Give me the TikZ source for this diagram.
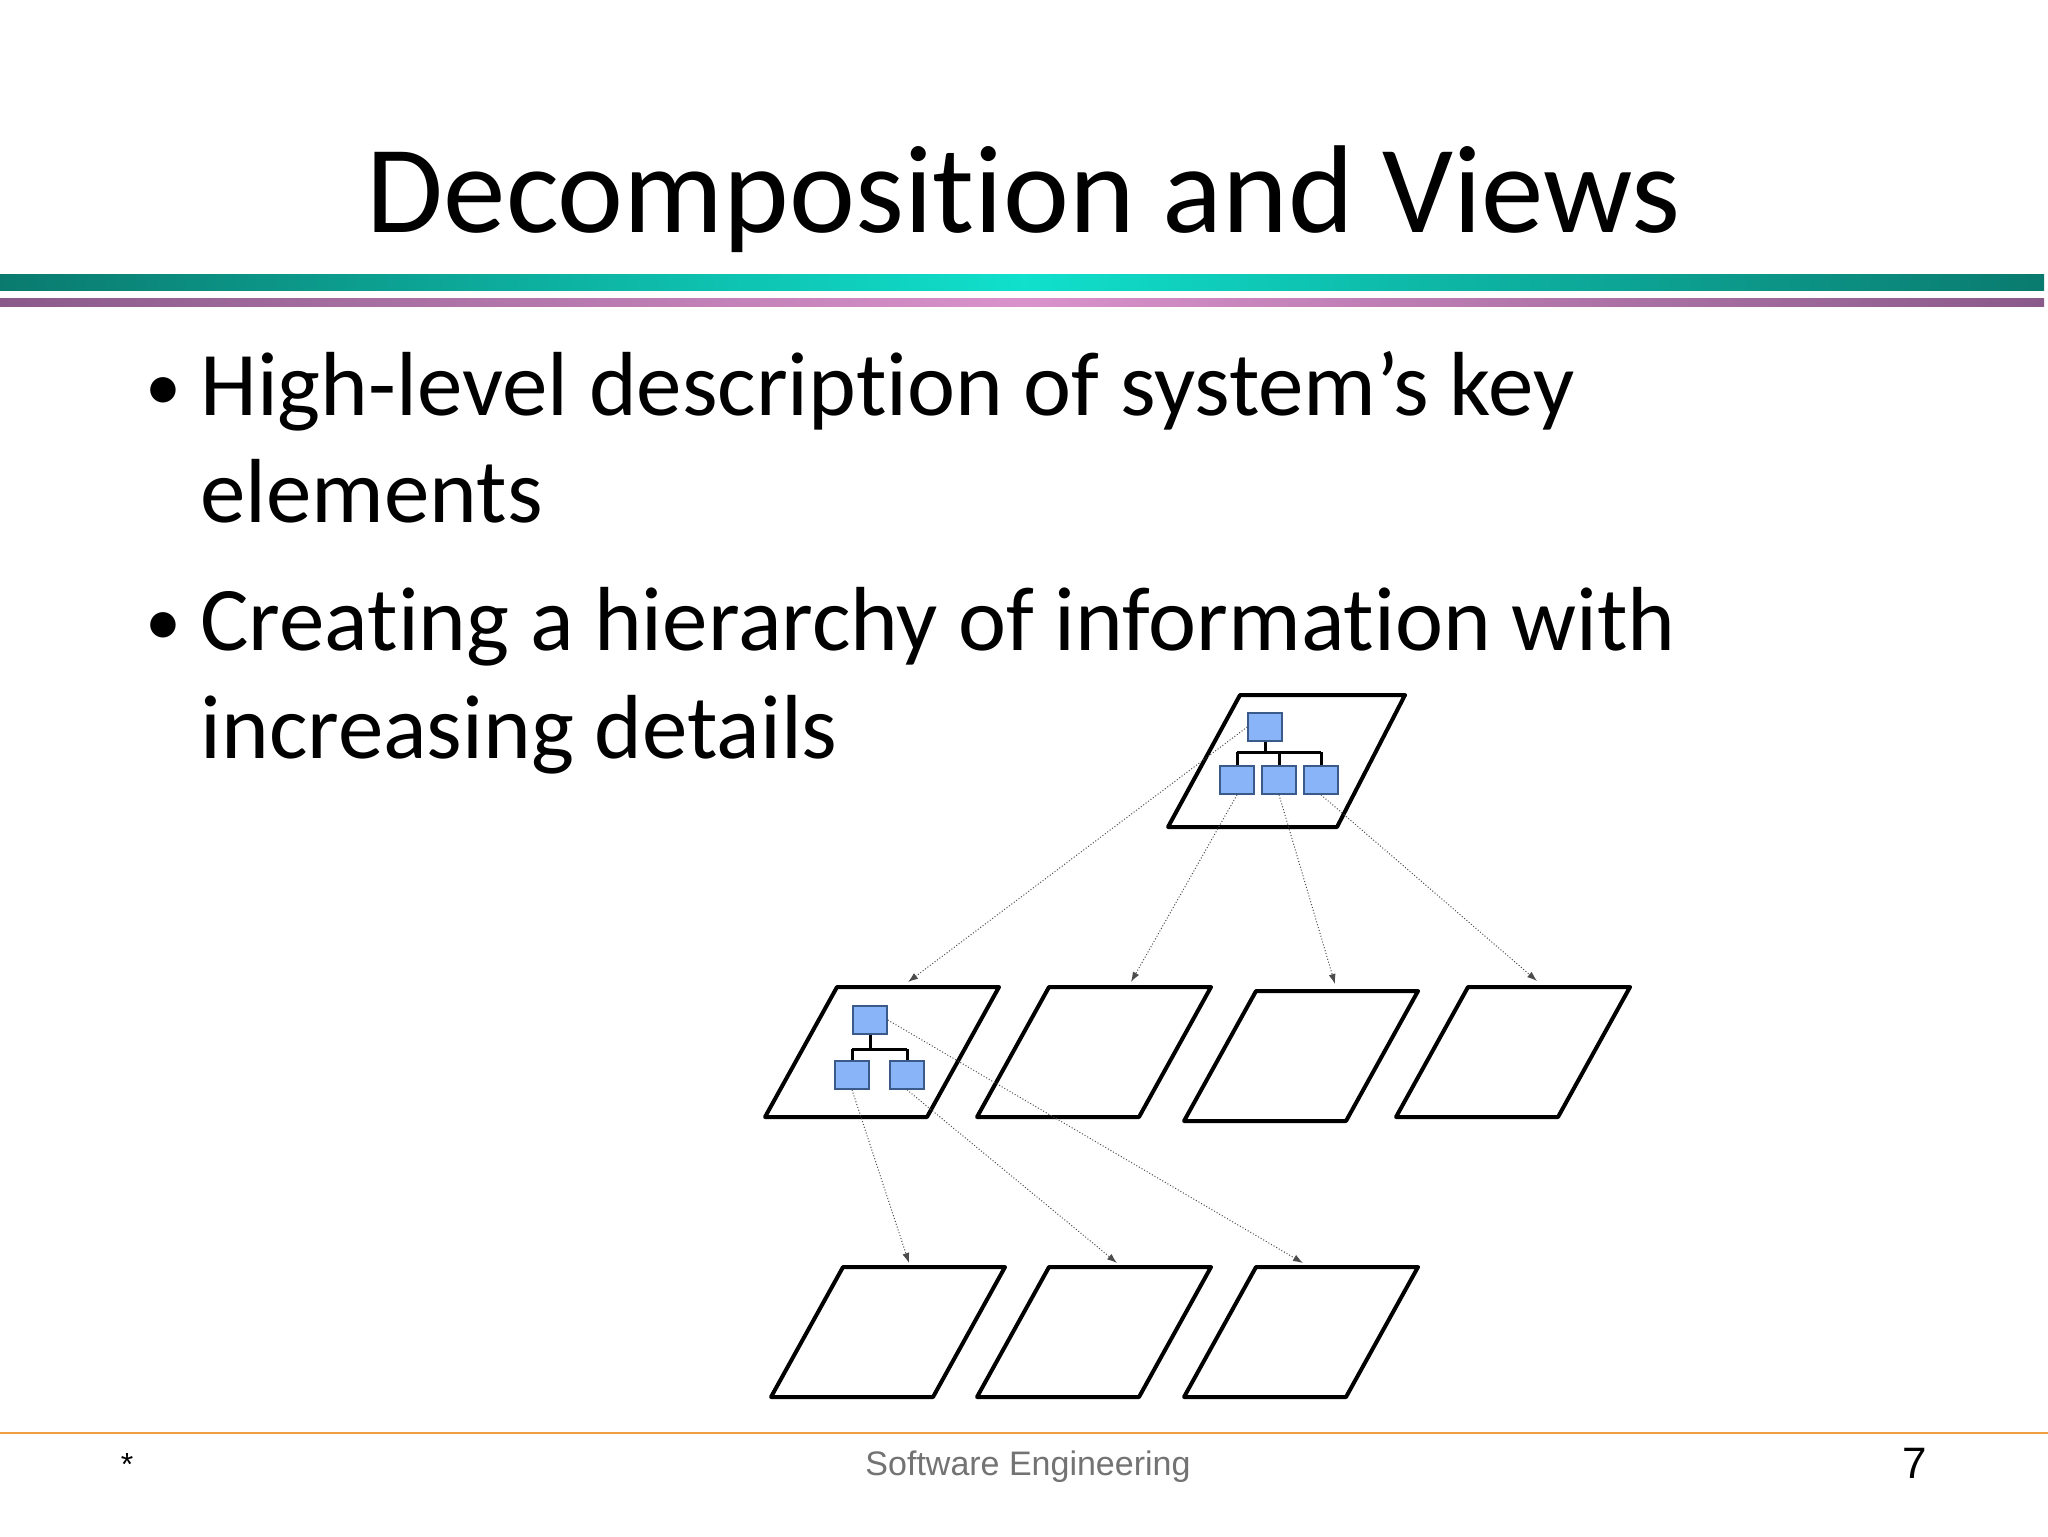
\documentclass[tikz,border=0pt]{standalone}
\usepackage{fontspec}
\setmainfont[RawFeature=-liga]{Carlito}
\newfontfamily\arialf{Liberation Sans}
\usetikzlibrary{arrows.meta}
\definecolor{boxblue}{HTML}{8AB4F8}
\definecolor{boxedge}{HTML}{3A5A8A}
\definecolor{tealD}{HTML}{0A7A6E}
\definecolor{tealL}{HTML}{10E0CC}
\definecolor{purD}{HTML}{8A5A8A}
\definecolor{purL}{HTML}{DA92CC}
\definecolor{orangeL}{HTML}{F0A040}
\tikzset{
  pg/.style={draw=black,line width=2pt,line join=round,fill=white},
  sbox/.style={draw=boxedge,fill=boxblue,line width=0.8pt,minimum width=17pt,minimum height=14pt,inner sep=0pt},
  tree/.style={draw=black,line width=1.5pt},
  darr/.style={draw=black!70,line width=0.5pt,densely dotted,-{Latex[length=5pt,width=3.5pt]}},
  txt/.style={anchor=base west,inner sep=0pt},
}
\newcommand{\pgram}[4]{% name, TLx, topy
  \draw[pg] (#2,#3) -- ++(162,0) -- ++(-72,130) -- ++(-162,0) -- cycle;
  \coordinate (#1) at (#2+11,#3);
}
\begin{document}
\begin{tikzpicture}[x=0.5pt,y=-0.5pt]
\useasboundingbox (0,0) rectangle (2048,1536);
\fill[white] (0,0) rectangle (2048,1536);
% title
\node[anchor=base,inner sep=0pt,font=\fontsize{62.5}{72}\selectfont] (title) at (1024,232) {Decomposition and Views};
% bars
\shade[left color=tealD,right color=tealL] (0,274) rectangle (1024,290);
\shade[left color=tealL,right color=tealD] (1024,274) rectangle (2044,290);
\shade[left color=purD,right color=purL] (0,298) rectangle (1024,306);
\shade[left color=purL,right color=purD] (1024,298) rectangle (2044,306);
% bullets
\begin{scope}[font=\fontsize{45.5}{54}\selectfont]
\node[txt,font=\fontsize{36}{40}\selectfont] (b1) at (145,410) {•};
\node[txt] (l1) at (200,415) {High-level description of system’s key};
\node[txt] (l2) at (200,522) {elements};
\node[txt,font=\fontsize{36}{40}\selectfont] (b2) at (145,645) {•};
\node[txt] (l3) at (200,650) {Creating a hierarchy of information with};
\node[txt] (l4) at (200,758) {increasing details};
\end{scope}
% parallelograms
\draw[pg] (1240,695) -- (1405,695) -- (1337,827) -- (1168,827) -- cycle;
\pgram{r2a}{837}{987}{}
\pgram{r2b}{1049}{987}{}
\pgram{r2c}{1256}{991}{}
\pgram{r2d}{1468}{987}{}
\pgram{r3a}{843}{1267}{}
\pgram{r3b}{1049}{1267}{}
\pgram{r3c}{1256}{1267}{}
% top tree
\node[sbox] (t0) at (1265,727) {};
\node[sbox] (t1) at (1237,780) {};
\node[sbox] (t2) at (1279,780) {};
\node[sbox] (t3) at (1321,780) {};
\draw[tree] (t0.south) -- (1265,752) (1237,752) -- (1321,752);
\draw[tree] (t1.north) -- (1237,752) (t2.north) -- (1279,752) (t3.north) -- (1321,752);
% row2 tree
\node[sbox] (s0) at (870,1020) {};
\node[sbox] (s1) at (852,1075) {};
\node[sbox] (s2) at (907,1075) {};
\draw[tree] (s0.south) -- (870,1049) (852,1049) -- (907,1049);
\draw[tree] (s1.north) -- (852,1049) (s2.north) -- (907,1049);
% arrow targets
\coordinate (a1) at (908,982);
\coordinate (a2) at (1131,982);
\coordinate (a3) at (1335,984);
\coordinate (a4) at (1537,981);
\coordinate (c1) at (909,1263);
\coordinate (c2) at (1117,1263);
\coordinate (c3) at (1303,1263);
\draw[darr] (t0.west) -- (a1);
\draw[darr] (t1.south) -- (a2);
\draw[darr] (t2.south) -- (a3);
\draw[darr] (t3.south) -- (a4);
\draw[darr] (s0.east) -- (c3);
\draw[darr] (s1.south) -- (c1);
\draw[darr] (s2.south) -- (c2);
% footer
\draw[orangeL,line width=1pt] (0,1433) -- (2048,1433);
\node[anchor=base,inner sep=0pt,font=\arialf\fontsize{16}{18}\selectfont] (star) at (127,1475) {*};
\node[anchor=base,inner sep=0pt,text=black!55,font=\arialf\fontsize{17}{19}\selectfont] (foot) at (1028,1475) {Software Engineering};
\node[anchor=base,inner sep=0pt,font=\arialf\fontsize{22}{24}\selectfont] (num) at (1915,1478) {7};
\end{tikzpicture}
\end{document}
